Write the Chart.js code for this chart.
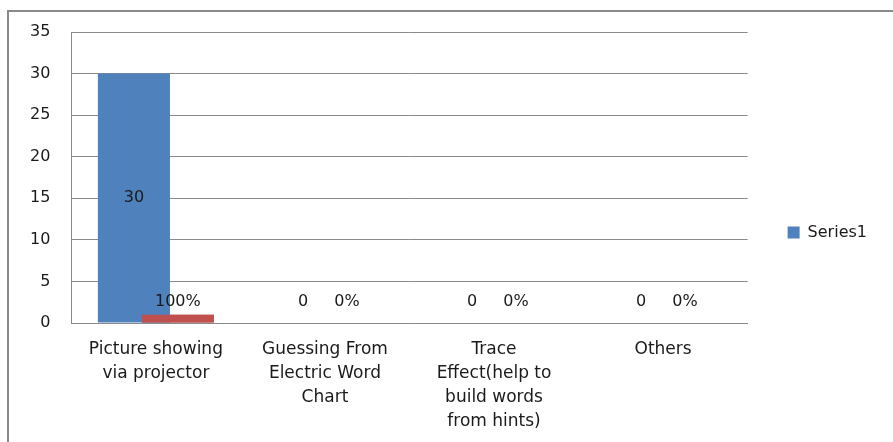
<!DOCTYPE html>
<html lang="en">
<head>
  <meta charset="UTF-8" />
  <title>Series1 chart</title>
  <script src="https://cdn.jsdelivr.net/npm/chart.js"></script>
  <style>
    body { margin: 0; background: #fff; }
    #wrap { width: 893px; height: 442px; }
  </style>
</head>
<body>
  <div id="wrap"><canvas id="chart"></canvas></div>

  <script>
    const categories = [
      ['Picture showing', 'via projector'],
      ['Guessing From', 'Electric Word', 'Chart'],
      ['Trace', 'Effect(help to', 'build words', 'from hints)'],
      ['Others']
    ];
    const series1 = [30, 0, 0, 0];
    const series2 = [1, 0, 0, 0];          // share, shown as percent
    const series1Labels = ['30', '0', '0', '0'];
    const series2Labels = ['100%', '0%', '0%', '0%'];
    const yTicks = [0, 5, 10, 15, 20, 25, 30, 35];

    const FONT = "'DejaVu Sans', sans-serif";
    const ink = '#1a1a1a';

    // outer frame, red bars on top of blue, value labels
    const extras = {
      id: 'extras',
      beforeDraw(chart) {
        const ctx = chart.ctx;
        ctx.save();
        ctx.strokeStyle = '#8a8a8a';
        ctx.lineWidth = 2;
        ctx.strokeRect(8, 11, 900, 500);
        ctx.restore();
      },
      afterDatasetsDraw(chart) {
        // Excel draws the second series over the first one
        chart.getDatasetMeta(1).controller.draw();

        const ctx = chart.ctx;
        const base = chart.scales.y.getPixelForValue(0);
        ctx.save();
        ctx.font = '16px ' + FONT;
        ctx.fillStyle = ink;
        ctx.textAlign = 'center';
        ctx.textBaseline = 'middle';
        [series1Labels, series2Labels].forEach((labels, di) => {
          chart.getDatasetMeta(di).data.forEach((bar, i) => {
            let y;
            if (base - bar.y > 30) y = (bar.y + base) / 2;
            else y = Math.min(bar.y - 13, base - 21);
            ctx.fillText(labels[i], bar.x, y);
          });
        });
        ctx.restore();
      }
    };

    new Chart(document.getElementById('chart'), {
      type: 'bar',
      data: {
        labels: categories,
        datasets: [
          { label: 'Series1', data: series1, backgroundColor: '#4f81bd', borderWidth: 0 },
          { label: 'Series2', data: series2, backgroundColor: '#c0504d', borderWidth: 0 }
        ]
      },
      options: {
        responsive: true,
        maintainAspectRatio: false,
        animation: false,
        categoryPercentage: 0.52,
        barPercentage: 1.64,
        layout: { padding: { left: 9, right: 16, top: 32, bottom: 9 } },
        plugins: {
          tooltip: { enabled: false },
          legend: {
            position: 'right',
            labels: {
              filter: item => item.text === 'Series1',
              boxWidth: 12,
              boxHeight: 12,
              padding: 40,
              color: ink,
              font: { family: FONT, size: 16 }
            }
          }
        },
        scales: {
          x: {
            afterFit: axis => { axis.height = 110; },
            grid: { display: false, drawTicks: false },
            border: { color: '#8a8a8a', width: 1 },
            ticks: {
              color: ink,
              padding: 15,
              maxRotation: 0,
              autoSkip: false,
              font: { family: FONT, size: 17, lineHeight: 1.41 }
            }
          },
          y: {
            min: 0,
            max: 35,
            afterBuildTicks: axis => { axis.ticks = yTicks.map(v => ({ value: v })); },
            grid: { color: '#8a8a8a', drawTicks: false },
            border: { color: '#8a8a8a', width: 1 },
            ticks: {
              color: ink,
              padding: 21,
              font: { family: FONT, size: 16 }
            }
          }
        }
      },
      plugins: [extras]
    });
  </script>
</body>
</html>
